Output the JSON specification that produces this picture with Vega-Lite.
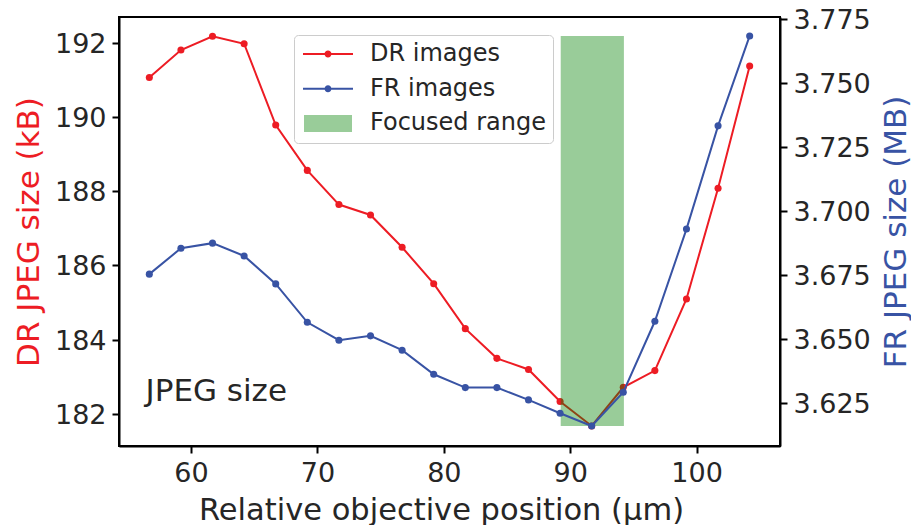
{
  "$schema": "https://vega.github.io/schema/vega-lite/v6.json",
  "width": 661,
  "height": 429,
  "autosize": {"type": "none"},
  "padding": {"left": 119, "top": 17, "right": 131, "bottom": 79},
  "background": "white",
  "datasets": {
    "sizes": [
      {"pos": 56.7, "series": "DR images", "size": 191.06},
      {"pos": 59.2, "series": "DR images", "size": 191.80},
      {"pos": 61.7, "series": "DR images", "size": 192.17},
      {"pos": 64.2, "series": "DR images", "size": 191.97},
      {"pos": 66.7, "series": "DR images", "size": 189.78},
      {"pos": 69.2, "series": "DR images", "size": 188.56},
      {"pos": 71.7, "series": "DR images", "size": 187.64},
      {"pos": 74.2, "series": "DR images", "size": 187.36},
      {"pos": 76.7, "series": "DR images", "size": 186.49},
      {"pos": 79.2, "series": "DR images", "size": 185.51},
      {"pos": 81.7, "series": "DR images", "size": 184.30},
      {"pos": 84.2, "series": "DR images", "size": 183.50},
      {"pos": 86.7, "series": "DR images", "size": 183.20},
      {"pos": 89.2, "series": "DR images", "size": 182.34},
      {"pos": 91.7, "series": "DR images", "size": 181.68},
      {"pos": 94.2, "series": "DR images", "size": 182.72},
      {"pos": 96.7, "series": "DR images", "size": 183.17},
      {"pos": 99.2, "series": "DR images", "size": 185.10},
      {"pos": 101.7, "series": "DR images", "size": 188.08},
      {"pos": 104.2, "series": "DR images", "size": 191.37},
      {"pos": 56.7, "series": "FR images", "size": 3.6754},
      {"pos": 59.2, "series": "FR images", "size": 3.6855},
      {"pos": 61.7, "series": "FR images", "size": 3.6875},
      {"pos": 64.2, "series": "FR images", "size": 3.6825},
      {"pos": 66.7, "series": "FR images", "size": 3.6716},
      {"pos": 69.2, "series": "FR images", "size": 3.6566},
      {"pos": 71.7, "series": "FR images", "size": 3.6496},
      {"pos": 74.2, "series": "FR images", "size": 3.6513},
      {"pos": 76.7, "series": "FR images", "size": 3.6457},
      {"pos": 79.2, "series": "FR images", "size": 3.6363},
      {"pos": 81.7, "series": "FR images", "size": 3.6311},
      {"pos": 84.2, "series": "FR images", "size": 3.6311},
      {"pos": 86.7, "series": "FR images", "size": 3.6263},
      {"pos": 89.2, "series": "FR images", "size": 3.6211},
      {"pos": 91.7, "series": "FR images", "size": 3.6161},
      {"pos": 94.2, "series": "FR images", "size": 3.6293},
      {"pos": 96.7, "series": "FR images", "size": 3.6570},
      {"pos": 99.2, "series": "FR images", "size": 3.6930},
      {"pos": 101.7, "series": "FR images", "size": 3.7333},
      {"pos": 104.2, "series": "FR images", "size": 3.7684}
    ],
    "focus": [
      {"pos": 89.25, "pos2": 94.25, "lo": 3.6161, "hi": 3.7684, "series": "Focused range"}
    ],
    "notes": [
      {"pos": 56.4, "size": 182.35, "label": "JPEG size"}
    ]
  },
  "layer": [
    {
      "layer": [
        {
          "data": {"name": "sizes"},
          "transform": [{"filter": "datum.series === 'DR images'"}],
          "mark": {"type": "line", "color": "#ed1c24", "strokeWidth": 2},
          "encoding": {
            "x": {"field": "pos", "type": "quantitative", "scale": {"domain": [54.3, 106.6], "nice": false, "zero": false},
                  "axis": {"values": [60, 70, 80, 90, 100], "title": "Relative objective position (µm)", "titleFontSize": 30.5, "titleX": 322, "titleY": 73, "titleBaseline": "alphabetic", "titleAlign": "center", "labelFlush": false}},
            "y": {"field": "size", "type": "quantitative", "scale": {"domain": [181.14, 192.69], "nice": false, "zero": false},
                  "axis": {"orient": "left", "values": [182, 184, 186, 188, 190, 192], "title": "DR JPEG size (kB)", "titleColor": "#ed1c24", "titleX": -90, "titleY": 214.5, "titleAngle": 270, "titleBaseline": "middle", "titleAlign": "center", "labelOffset": 1.5}}
          }
        },
        {
          "data": {"name": "sizes"},
          "transform": [{"filter": "datum.series === 'DR images'"}],
          "mark": {"type": "point", "filled": true, "size": 50, "opacity": 1, "shape": "circle"},
          "encoding": {
            "x": {"field": "pos", "type": "quantitative"},
            "y": {"field": "size", "type": "quantitative"},
            "color": {"field": "series", "type": "nominal",
                      "scale": {"domain": ["DR images", "FR images", "Focused range"], "range": ["#ed1c24", "#3853a4", "#99cc99"]},
                      "legend": {"title": null, "orient": "none", "legendX": 175, "legendY": 18, "padding": 7, "rowPadding": 10.7,
                                 "symbolSize": 576, "symbolStrokeWidth": 0, "symbolOffset": 15, "labelOffset": 30, "labelFontSize": 24,
                                 "labelColor": "#262626", "labelLimit": 300, "fillColor": "rgba(255,255,255,0.8)", "strokeColor": "#cccccc", "cornerRadius": 4, "symbolOpacity": 1,
                                 "symbolType": {"expr": "datum.value === 'Focused range' ? 'M-2,-0.71H2V0.71H-2Z' : 'M-2.083,-0.083H2.083V0.083H-2.083Z M-0.29,0A0.29,0.29 0 1,1 0.29,0A0.29,0.29 0 1,1 -0.29,0Z'"}}}
          }
        },
        {
          "data": {"name": "notes"},
          "mark": {"type": "text", "align": "left", "baseline": "alphabetic", "fontSize": 31, "color": "#262626"},
          "encoding": {
            "x": {"field": "pos", "type": "quantitative"},
            "y": {"field": "size", "type": "quantitative"},
            "text": {"field": "label"}
          }
        }
      ]
    },
    {
      "layer": [
        {
          "data": {"name": "focus"},
          "mark": {"type": "rect", "color": "#008000", "opacity": 0.4},
          "encoding": {
            "x": {"field": "pos", "type": "quantitative"},
            "x2": {"field": "pos2"},
            "y": {"field": "lo", "type": "quantitative", "scale": {"domain": [3.6083, 3.7758], "nice": false, "zero": false},
                  "axis": {"orient": "right", "values": [3.625, 3.65, 3.675, 3.7, 3.725, 3.75, 3.775], "format": ".3f", "title": "FR JPEG size (MB)", "titleColor": "#3853a4", "titleX": 116, "titleY": 214.5, "titleAngle": 270, "titleBaseline": "middle", "titleAlign": "center", "labelOffset": 1.5}},
            "y2": {"field": "hi"}
          }
        },
        {
          "data": {"name": "sizes"},
          "transform": [{"filter": "datum.series === 'FR images'"}],
          "mark": {"type": "line", "color": "#3853a4", "strokeWidth": 2},
          "encoding": {
            "x": {"field": "pos", "type": "quantitative"},
            "y": {"field": "size", "type": "quantitative"}
          }
        },
        {
          "data": {"name": "sizes"},
          "transform": [{"filter": "datum.series === 'FR images'"}],
          "mark": {"type": "point", "filled": true, "size": 50, "opacity": 1, "shape": "circle"},
          "encoding": {
            "x": {"field": "pos", "type": "quantitative"},
            "y": {"field": "size", "type": "quantitative"},
            "color": {"field": "series", "type": "nominal",
                      "scale": {"domain": ["DR images", "FR images", "Focused range"], "range": ["#ed1c24", "#3853a4", "#99cc99"]},
                      "legend": {"title": null, "orient": "none", "legendX": 175, "legendY": 18, "padding": 7, "rowPadding": 10.7,
                                 "symbolSize": 576, "symbolStrokeWidth": 0, "symbolOffset": 15, "labelOffset": 30, "labelFontSize": 24,
                                 "labelColor": "#262626", "labelLimit": 300, "fillColor": "rgba(255,255,255,0.8)", "strokeColor": "#cccccc", "cornerRadius": 4, "symbolOpacity": 1,
                                 "symbolType": {"expr": "datum.value === 'Focused range' ? 'M-2,-0.71H2V0.71H-2Z' : 'M-2.083,-0.083H2.083V0.083H-2.083Z M-0.29,0A0.29,0.29 0 1,1 0.29,0A0.29,0.29 0 1,1 -0.29,0Z'"}}}
          }
        }
      ]
    }
  ],
  "resolve": {"scale": {"y": "independent"}},
  "config": {
    "font": "DejaVu Sans",
    "view": {"stroke": "black", "strokeWidth": 2},
    "axis": {
      "grid": false,
      "domainColor": "black",
      "domainWidth": 2,
      "tickColor": "black",
      "tickWidth": 2,
      "tickSize": 7,
      "labelFontSize": 27,
      "labelColor": "#262626",
      "labelPadding": 6,
      "labelOverlap": false,
      "titleFontSize": 31,
      "titleFontWeight": "normal",
      "titleColor": "#262626"
    },
    "axisX": {"labelPadding": 7}
  }
}
